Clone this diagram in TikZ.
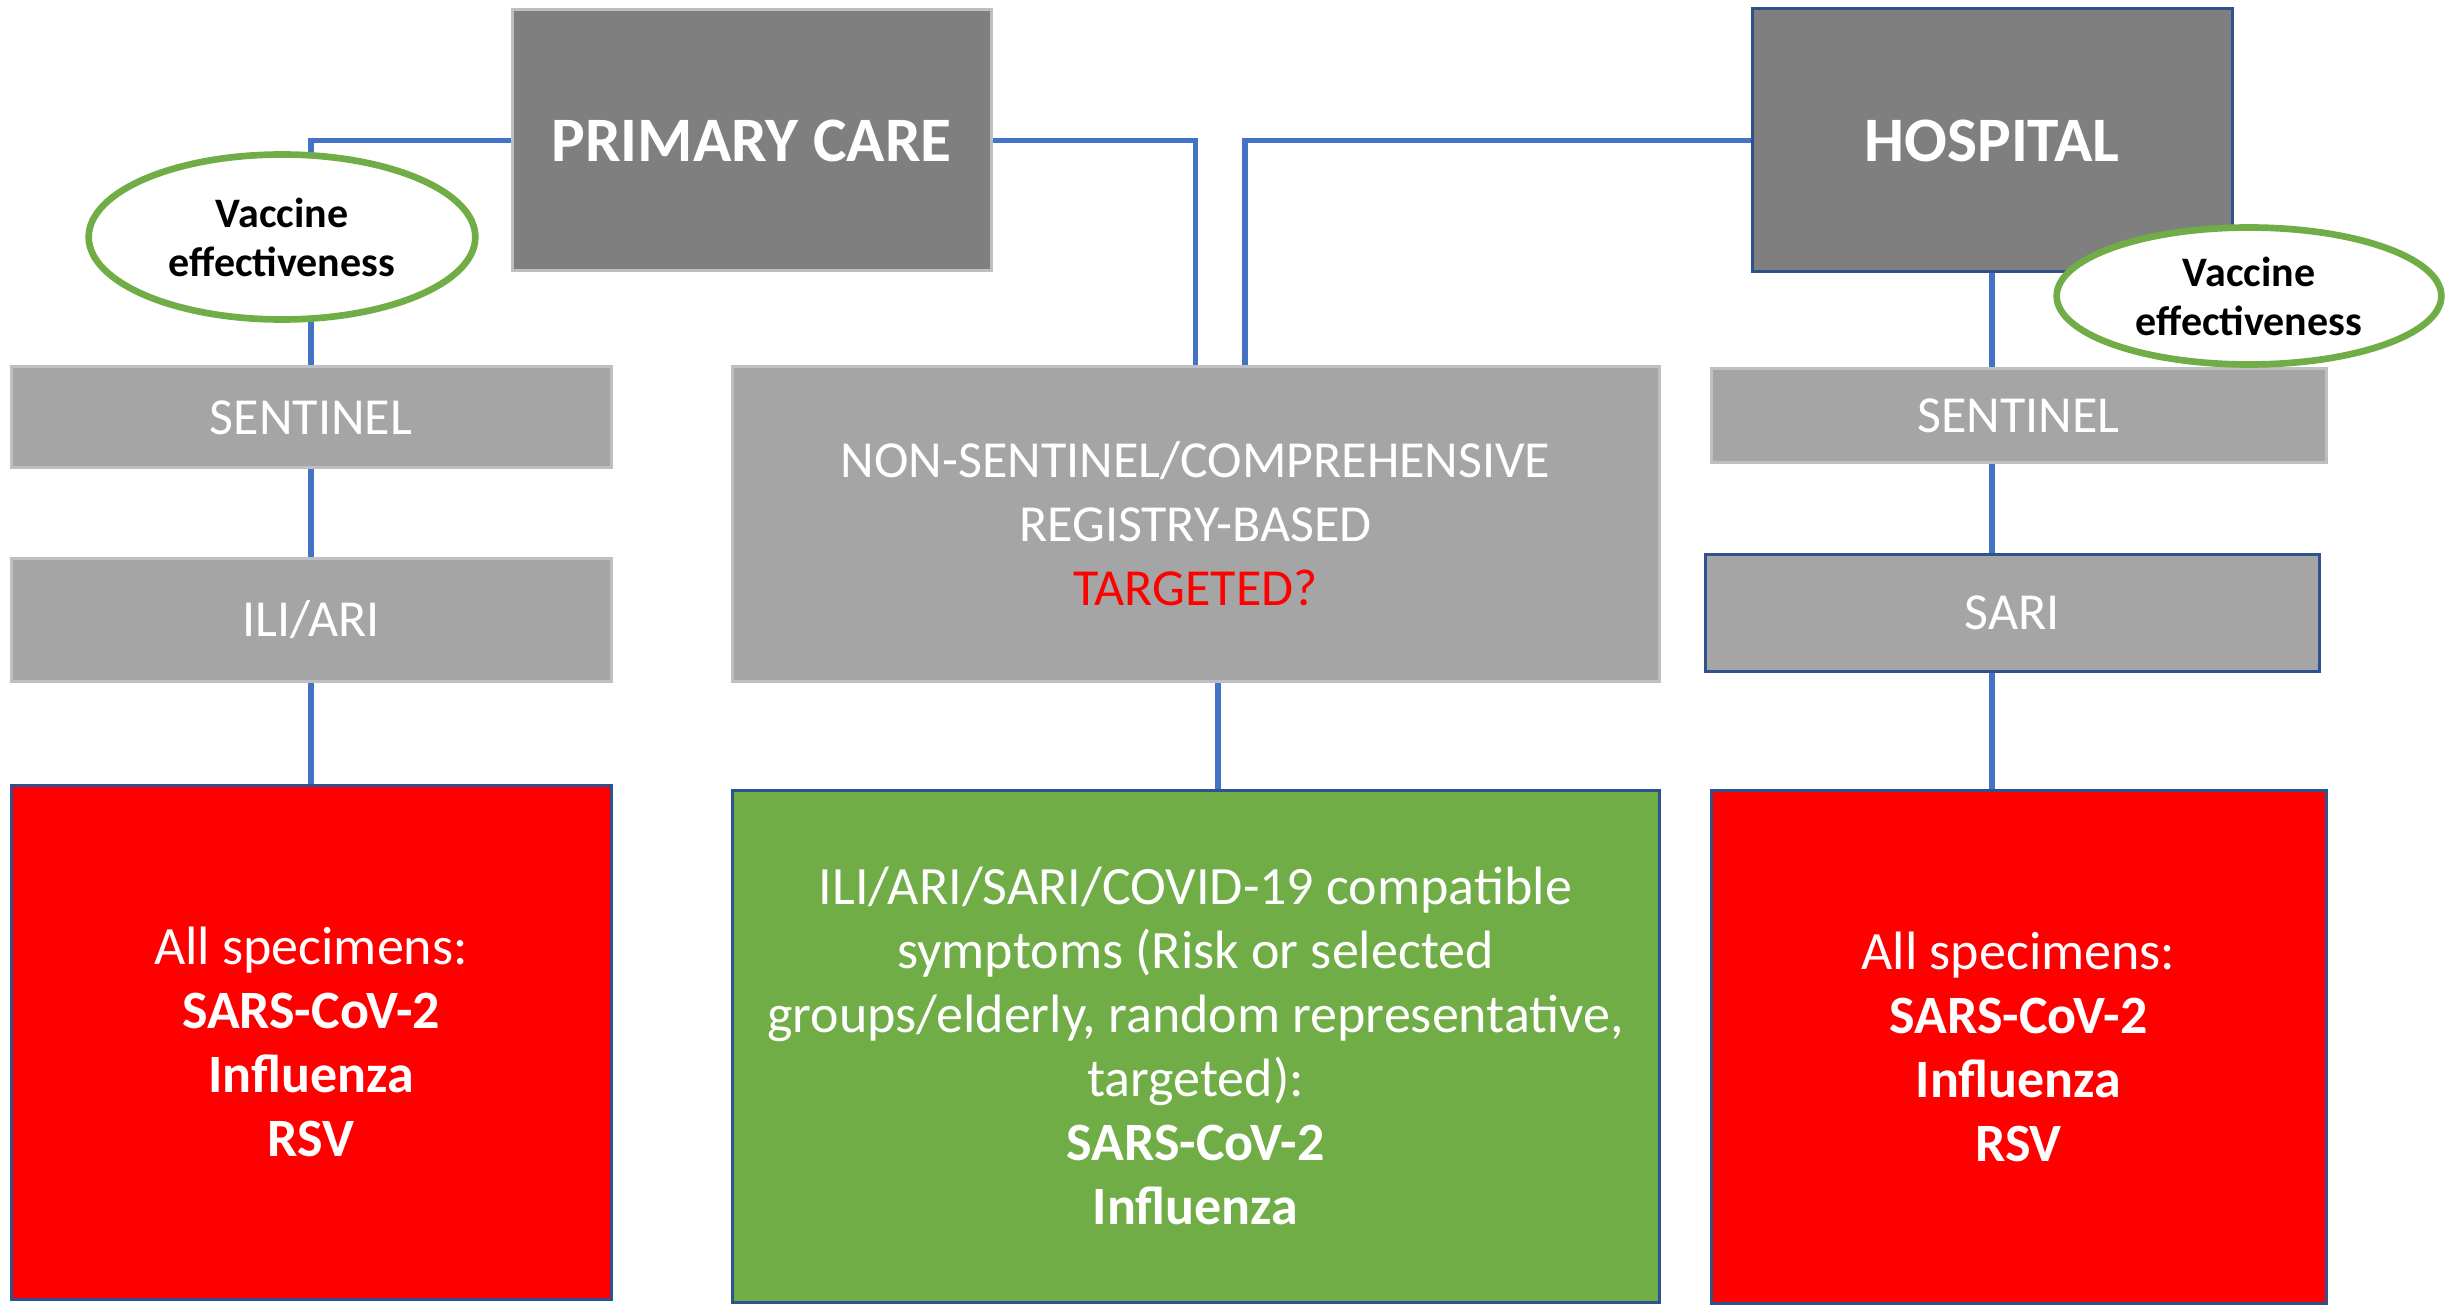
\documentclass[tikz,border=0pt]{standalone}
\usepackage{fontspec}
\setmainfont{Carlito}
\usetikzlibrary{shapes.geometric,backgrounds}
\definecolor{dgray}{HTML}{7F7F7F}
\definecolor{mgray}{HTML}{A5A5A5}
\definecolor{lgray}{HTML}{BFBFBF}
\definecolor{dblue}{HTML}{2F528F}
\definecolor{lblue}{HTML}{4472C4}
\definecolor{vgreen}{HTML}{70AD47}
\definecolor{vred}{HTML}{FF0000}
\begin{document}
\begin{tikzpicture}[x=0.3pt,y=-0.3pt,
  box/.style={rectangle, draw=lgray, line width=0.9pt, fill=mgray, text=white, align=center, inner sep=0pt},
  topbox/.style={box, fill=dgray, font=\fontsize{19}{23}\selectfont\bfseries},
  midtext/.style={font=\fontsize{15.6}{19.2}\selectfont},
  bottext/.style={font=\fontsize{16.2}{19.2}\selectfont},
  vebubble/.style={ellipse, draw=vgreen, line width=2pt, fill=white, text=black, align=center, inner sep=0pt, font=\fontsize{12.6}{14.7}\selectfont\bfseries},
  link/.style={draw=lblue, line width=1.6pt}
]
\useasboundingbox (0,0) rectangle (2446,1305);

\node[topbox, minimum width=143.7pt, minimum height=78.3pt] (pc) at (751.5,140.5) {PRIMARY CARE};
\node[topbox, draw=dblue, minimum width=144pt, minimum height=78.9pt] (hosp) at (1992,140.5) {HOSPITAL};

\node[box, midtext, minimum width=180pt, minimum height=30.3pt] (sen1) at (311,417.5) {SENTINEL};
\node[box, midtext, minimum width=180pt, minimum height=36.9pt] (ili) at (311,619.5) {ILI/ARI};
\node[box, midtext, minimum width=278.1pt, minimum height=94.5pt] (ns) at (1195.5,523.5) {NON-SENTINEL/COMPREHENSIVE\\REGISTRY-BASED\\\textcolor{vred}{TARGETED?}};
\node[box, midtext, minimum width=184.5pt, minimum height=28.2pt] (sen2) at (2018.5,416) {SENTINEL};
\node[box, midtext, draw=dblue, minimum width=184.2pt, minimum height=35.1pt] (sari) at (2012,612.5) {SARI};

\node[box, bottext, fill=vred, draw=dblue, minimum width=180pt, minimum height=154.2pt] (red1) at (311,1042) {All specimens:\\\textbf{SARS-CoV-2}\\\textbf{Influenza}\\\textbf{RSV}};
\node[box, bottext, fill=vgreen, draw=dblue, minimum width=278.1pt, minimum height=153.6pt] (green) at (1195.5,1046) {ILI/ARI/SARI/COVID-19 compatible\\symptoms (Risk or selected\\groups/elderly, random representative,\\targeted):\\\textbf{SARS-CoV-2}\\\textbf{Influenza}};
\node[box, bottext, fill=vred, draw=dblue, minimum width=184.5pt, minimum height=153.9pt] (red2) at (2018.5,1046.5) {All specimens:\\\textbf{SARS-CoV-2}\\\textbf{Influenza}\\\textbf{RSV}};

\node[vebubble, minimum width=116pt, minimum height=49.5pt] (ve1) at (282,237) {Vaccine\\effectiveness};
\node[vebubble, minimum width=115.4pt, minimum height=41.1pt] (ve2) at (2249,296) {Vaccine\\effectiveness};

\begin{pgfonlayer}{background}
\draw[link] (pc.west) -| (sen1.north);
\draw[link] (sen1.south) -- (ili.north);
\draw[link] (ili.south) -- (red1.north);
\draw[link] (pc.east) -| (ns.north);
\draw[link] (hosp.west) -| ([xshift=14.85pt]ns.north);
\draw[link] ([xshift=6.75pt]ns.south) -- ([xshift=6.75pt]ns.south |- green.north);
\draw[link] (hosp.south) -- (hosp.south |- sen2.north);
\draw[link] (hosp.south |- sen2.south) -- (hosp.south |- sari.north);
\draw[link] (hosp.south |- sari.south) -- (hosp.south |- red2.north);
\end{pgfonlayer}
\end{tikzpicture}
\end{document}
